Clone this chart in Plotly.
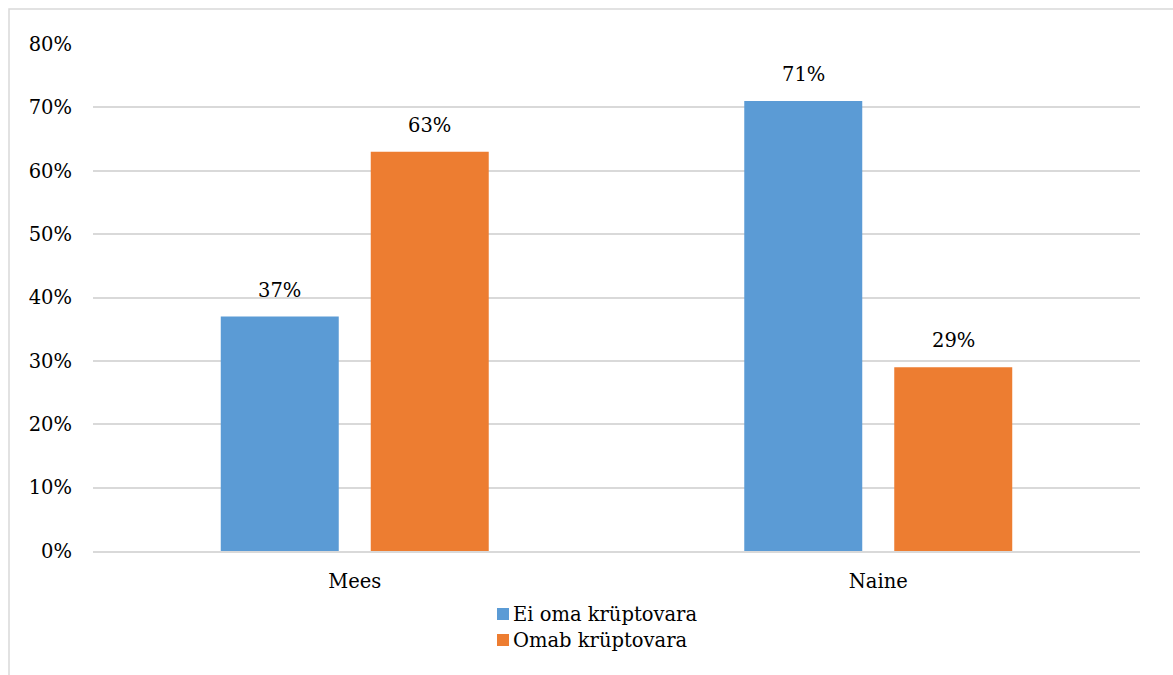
import plotly.graph_objects as go

categories = ["Mees", "Naine"]
ei_oma = [37, 71]
omab = [63, 29]
series_names = ["Ei oma krüptovara", "Omab krüptovara"]
tick_vals = [0, 10, 20, 30, 40, 50, 60, 70, 80]
tick_text = ["0%", "10%", "20%", "30%", "40%", "50%", "60%", "70%", "80%"]

BLUE = "#5b9bd5"
ORANGE = "#ed7d31"
GRID = "#d9d9d9"
FONT = "DejaVu Serif"
FS = 19.5

W, H = 1173, 675
L, R, T, B = 93, 33, 44, 124
pw, ph = W - L - R, H - T - B

fig = go.Figure()
series = [(series_names[0], ei_oma, BLUE), (series_names[1], omab, ORANGE)]
for name, vals, color in series:
    fig.add_trace(go.Bar(
        name=name, x=categories, y=vals,
        marker=dict(color=color, line=dict(width=0)),
        showlegend=False,
    ))

# value labels above each bar (offset within the group)
slot_px = 150
for i, (name, vals, color) in enumerate(series):
    shift = (i - 0.5) * slot_px
    for cat, v in zip(categories, vals):
        fig.add_annotation(x=cat, y=v, text=f"{v}%", showarrow=False,
                           xshift=shift, yshift=13, yanchor="bottom",
                           font=dict(family=FONT, size=FS, color="#000000"))

# legend: colour squares with labels, stacked below the axis
leg_x0, leg_y = 497, [614, 640]
for (name, vals, color), yc in zip(series, leg_y):
    fig.add_shape(type="rect", xref="paper", yref="paper",
                  x0=(leg_x0 - L) / pw, x1=(leg_x0 + 12 - L) / pw,
                  y0=(H - B - yc - 6) / ph, y1=(H - B - yc + 6) / ph,
                  fillcolor=color, line=dict(width=0))
    fig.add_annotation(xref="paper", yref="paper", x=(leg_x0 + 14 - L) / pw,
                       y=(H - B - yc) / ph, text=name, showarrow=False,
                       xanchor="left", yanchor="middle",
                       font=dict(family=FONT, size=FS, color="#000000"))

fig.update_layout(
    width=W, height=H,
    margin=dict(l=L, r=R, t=T, b=B),
    paper_bgcolor="white", plot_bgcolor="white",
    barmode="group", bargap=0.427, bargroupgap=0.2133,
    font=dict(family=FONT, size=FS, color="#000000"),
    showlegend=False,
    xaxis=dict(showgrid=False, showline=True, linecolor=GRID, linewidth=1.5,
               ticks="", ticklabelstandoff=12, tickfont=dict(family=FONT, size=FS)),
    yaxis=dict(range=[0, 80], tickvals=tick_vals, ticktext=tick_text,
               showgrid=True, gridcolor=GRID, gridwidth=1.5,
               zeroline=False, showline=False, ticks="", ticklen=0,
               ticklabelstandoff=20, tickfont=dict(family=FONT, size=FS)),
)
fig.add_shape(type="rect", xref="paper", yref="paper",
              x0=(9 - L) / pw, x1=(W + 5 - L) / pw,
              y0=-(H + 5 - T - ph) / ph, y1=(ph + T - 9) / ph,
              line=dict(color=GRID, width=1.5), fillcolor="rgba(0,0,0,0)", layer="below")

fig.write_html("out.html")
